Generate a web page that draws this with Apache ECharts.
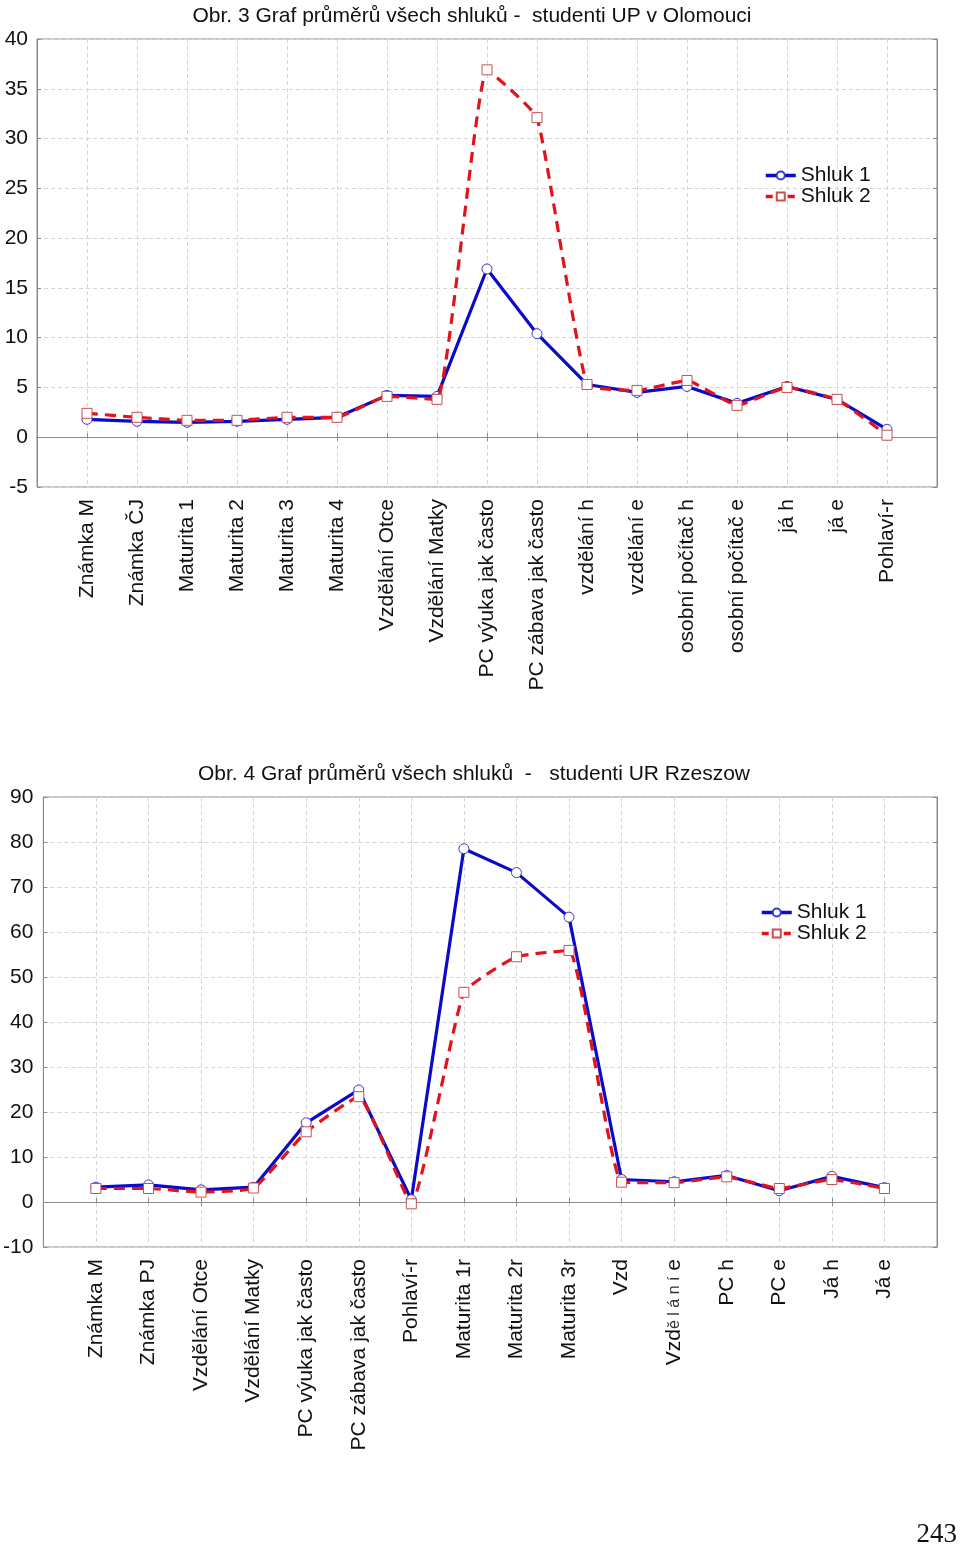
<!DOCTYPE html>
<html>
<head>
<meta charset="utf-8">
<script src="https://cdn.jsdelivr.net/npm/echarts@6/dist/echarts.min.js"></script>
<style>
html,body{margin:0;padding:0;background:#fff;}
#c{width:960px;height:1550px;}
</style>
</head>
<body>
<div id="c"></div>
<script>
// ---- Chart 1 (Obr. 3) ----
var cats1 = ['Známka M','Známka ČJ','Maturita 1','Maturita 2','Maturita 3','Maturita 4','Vzdělání Otce','Vzdělání Matky','PC výuka jak často','PC zábava jak často','vzdělání h','vzdělání e','osobní počítač h','osobní počítač e','já h','já e','Pohlaví-r'];
var s1a = [1.8,1.6,1.5,1.6,1.8,2.0,4.2,4.1,16.9,10.4,5.3,4.5,5.1,3.4,5.1,3.8,0.8];
var s1b = [2.4,2.0,1.7,1.7,2.0,2.0,4.1,3.8,36.9,32.1,5.3,4.7,5.7,3.2,5.0,3.8,0.2];
var yTicks1 = {min:-5, max:40, step:5};
var title1 = 'Obr. 3 Graf průměrů všech shluků -  studenti UP v Olomouci';

// ---- Chart 2 (Obr. 4) ----
var cats2 = ['Známka M','Známka PJ','Vzdělání Otce','Vzdělání Matky','PC výuka jak často','PC zábava jak často','Pohlaví-r','Maturita 1r','Maturita 2r','Maturita 3r','Vzd','Vzdělání e','PC h','PC e','Já h','Já e'];
var s2a = [3.3,3.8,2.7,3.3,17.6,24.9,0.5,78.5,73.2,63.3,5.0,4.5,5.9,2.5,5.7,3.2];
var s2b = [3.0,3.0,2.2,3.1,15.6,23.4,-0.4,46.6,54.5,55.9,4.4,4.3,5.6,3.0,5.0,3.0];
var yTicks2 = {min:-10, max:90, step:10};
var title2 = 'Obr. 4 Graf průměrů všech shluků  -   studenti UR Rzeszow';

var seriesNames = ['Shluk 1','Shluk 2'];
var pageNumber = '243';

var FF = '"Liberation Sans", Arial, sans-serif';
var FS = 21;
var BLUE = '#0a0ac8', RED = '#e3131b';
var GRID_LINE = {show:true, lineStyle:{color:'#d6d6d6', type:[4,3], width:1}};

function pad(a){ return [''].concat(a).concat(['']); }
function padv(a){ return [null].concat(a).concat([null]); }

function labelFmt(v){
  if (v === 'Vzdělání e') return 'Vzd{s|ě l á n í} e';
  return v;
}

var chart = echarts.init(document.getElementById('c'), null, {renderer:'canvas'});

function xAxes(gi, cats){
  return [
    {type:'category', gridIndex:gi, data:pad(cats), boundaryGap:false, position:'bottom',
     axisLine:{lineStyle:{color:'#8a8a8a'}},
     axisTick:{inside:true, length:4, lineStyle:{color:'#8a8a8a'}},
     axisLabel:{rotate:90, interval:0, margin:12, fontSize:FS, color:'#111', fontFamily:FF,
       formatter:labelFmt, rich:{s:{fontSize:16, fontFamily:FF, color:'#333'}}},
     splitLine:GRID_LINE},
    {type:'category', gridIndex:gi, data:pad(cats), boundaryGap:false, position:'top',
     axisLine:{lineStyle:{color:'#8a8a8a'}},
     axisTick:{inside:true, length:4, lineStyle:{color:'#8a8a8a'}},
     axisLabel:{show:false}, splitLine:{show:false}}
  ];
}
function yAxes(gi, t, margin){
  return [
    {type:'value', gridIndex:gi, min:t.min, max:t.max, interval:t.step, position:'left',
     axisLine:{show:true, lineStyle:{color:'#8a8a8a'}},
     axisTick:{show:true, inside:true, length:4, lineStyle:{color:'#8a8a8a'}},
     axisLabel:{fontSize:FS, color:'#111', fontFamily:FF, margin:margin},
     splitLine:GRID_LINE},
    {type:'value', gridIndex:gi, min:t.min, max:t.max, interval:t.step, position:'right',
     axisLine:{show:true, lineStyle:{color:'#8a8a8a'}},
     axisTick:{show:true, inside:true, length:4, lineStyle:{color:'#8a8a8a'}},
     axisLabel:{show:false}, splitLine:{show:false}}
  ];
}
function mkSeries(name, data, xi, yi, isSecond){
  if (!isSecond) {
    return {name:name, type:'line', xAxisIndex:xi, yAxisIndex:yi, data:padv(data),
      symbol:'circle', symbolSize:10, showAllSymbol:true,
      lineStyle:{color:BLUE, width:3.2},
      itemStyle:{color:'#ffffff', borderColor:'#3a3ad0', borderWidth:1},
      z:2};
  }
  return {name:name, type:'line', xAxisIndex:xi, yAxisIndex:yi, data:padv(data),
    symbol:'rect', symbolSize:10, showAllSymbol:true, smooth:0.12,
    lineStyle:{color:RED, width:3.2, type:[11,7]},
    itemStyle:{color:'#ffffff', borderColor:'#c85050', borderWidth:1},
    z:3};
}
function legendData(){
  return [
    {name:seriesNames[0], lineStyle:{width:3.5, color:BLUE}},
    {name:seriesNames[1], lineStyle:{width:3.5, color:RED, type:[7,4]}}
  ];
}

var option = {
  animation:false,
  backgroundColor:'#ffffff',
  textStyle:{fontFamily:FF},
  title:[
    {text:title1, left:467, top:1, textAlign:'center', textStyle:{fontSize:FS, fontWeight:'normal', color:'#111', fontFamily:FF}},
    {text:title2, left:469, top:759, textAlign:'center', textStyle:{fontSize:FS, fontWeight:'normal', color:'#111', fontFamily:FF}}
  ],
  legend:[
    {data:legendData(), orient:'vertical', left:759, top:160, itemWidth:30, itemHeight:10, itemGap:0,
     textStyle:{fontSize:FS, color:'#111', fontFamily:FF}, selectedMode:false},
    {data:legendData(), orient:'vertical', left:755, top:897, itemWidth:30, itemHeight:10, itemGap:0,
     textStyle:{fontSize:FS, color:'#111', fontFamily:FF}, selectedMode:false}
  ],
  grid:[
    {left:37, top:39, width:900, height:448, show:true, borderColor:'#8a8a8a', borderWidth:1, backgroundColor:'transparent'},
    {left:43, top:797, width:894, height:450, show:true, borderColor:'#8a8a8a', borderWidth:1, backgroundColor:'transparent'}
  ],
  xAxis: xAxes(0, cats1).concat(xAxes(1, cats2)),
  yAxis: yAxes(0, yTicks1, 9).concat(yAxes(1, yTicks2, 10)),
  series:[
    mkSeries(seriesNames[0], s1a, 0, 0, false),
    mkSeries(seriesNames[1], s1b, 0, 0, true),
    mkSeries(seriesNames[0], s2a, 2, 2, false),
    mkSeries(seriesNames[1], s2b, 2, 2, true)
  ],
  graphic:[
    {type:'text', right:3, top:1521, style:{text:pageNumber, fontSize:27, fill:'#111', fontFamily:'"Liberation Serif", "Times New Roman", serif'}}
  ]
};
chart.setOption(option);
</script>
</body>
</html>
